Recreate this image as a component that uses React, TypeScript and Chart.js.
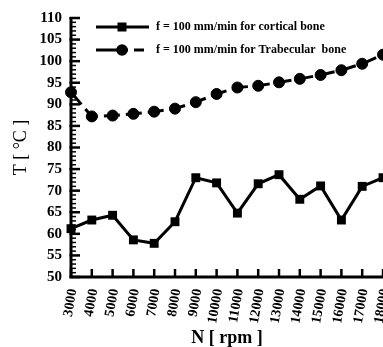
import React, { useEffect, useRef } from "react";
import { Chart, registerables } from "chart.js";

Chart.register(...registerables);

const categories = ["3000","4000","5000","6000","7000","8000","9000","10000","11000","12000","13000","14000","15000","16000","17000","18000"];
const corticalValues = [61.2, 63.2, 64.3, 58.6, 57.8, 62.8, 73.0, 71.8, 64.8, 71.6, 73.7, 68.0, 71.1, 63.2, 71.0, 73.0];
const trabecularValues = [92.8, 87.2, 87.4, 87.8, 88.3, 89.0, 90.5, 92.4, 93.9, 94.3, 95.1, 95.9, 96.8, 97.9, 99.4, 101.5];
const legendLabels = ["f = 100 mm/min for cortical bone", "f = 100 mm/min for Trabecular  bone"];
const yMin = 50;
const yMax = 110;
const yStep = 5;

const SERIF = "'Liberation Serif', 'Times New Roman', serif";

const decorPlugin = {
  id: "decor",
  beforeDatasetsDraw(chart: any) {
    const { ctx, chartArea, scales } = chart;
    const y = scales.y;
    const x = scales.x;
    ctx.save();
    ctx.strokeStyle = "#000";
    ctx.lineCap = "butt";
    ctx.lineWidth = 3;
    ctx.beginPath();
    ctx.moveTo(chartArea.left, chartArea.top - 1);
    ctx.lineTo(chartArea.left, chartArea.bottom + 1.5);
    ctx.moveTo(chartArea.left - 1.5, chartArea.bottom);
    ctx.lineTo(chartArea.right, chartArea.bottom);
    ctx.stroke();
    for (let v = yMin; v <= yMax; v += 1) {
      const py = y.getPixelForValue(v);
      const major = (v - yMin) % yStep === 0;
      ctx.lineWidth = major ? 2.5 : 1.5;
      ctx.beginPath();
      ctx.moveTo(chartArea.left - (major ? 1.5 : 0), py);
      ctx.lineTo(chartArea.left + (major ? 9 : 5), py);
      ctx.stroke();
    }
    ctx.lineWidth = 2.5;
    for (let i = 0; i < categories.length; i++) {
      const px = x.getPixelForValue(i);
      ctx.beginPath();
      ctx.moveTo(px, chartArea.bottom);
      ctx.lineTo(px, chartArea.bottom - 8);
      ctx.stroke();
    }
    ctx.fillStyle = "#000";
    ctx.font = `bold 14px ${SERIF}`;
    ctx.textAlign = "right";
    ctx.textBaseline = "middle";
    for (let i = 0; i < categories.length; i++) {
      const px = x.getPixelForValue(i);
      ctx.save();
      ctx.translate(px + 2, chartArea.bottom + 12);
      ctx.rotate(-80 * Math.PI / 180);
      ctx.fillText(categories[i], 0, 0);
      ctx.restore();
    }
    ctx.restore();
  },
  afterDraw(chart: any) {
    const { ctx } = chart;
    ctx.save();
    ctx.strokeStyle = "#000";
    ctx.fillStyle = "#000";
    ctx.lineWidth = 3;
    const y1 = 27;
    ctx.beginPath();
    ctx.moveTo(96, y1);
    ctx.lineTo(149, y1);
    ctx.stroke();
    ctx.fillRect(122 - 4.5, y1 - 4.5, 9, 9);
    const y2 = 50;
    ctx.beginPath();
    ctx.moveTo(96, y2);
    ctx.lineTo(128, y2);
    ctx.moveTo(134, y2);
    ctx.lineTo(144, y2);
    ctx.stroke();
    ctx.beginPath();
    ctx.arc(122, y2, 5.8, 0, Math.PI * 2);
    ctx.fill();
    ctx.font = `bold 12px ${SERIF}`;
    ctx.textBaseline = "middle";
    ctx.textAlign = "left";
    ctx.fillText(legendLabels[0], 156, y1);
    ctx.fillText(legendLabels[1], 156, y2);
    ctx.restore();
  },
};

export default function App() {
  const ref = useRef<HTMLCanvasElement>(null);
  useEffect(() => {
    document.body.style.margin = "0";
    const canvas = ref.current!;
    const chart = new Chart(canvas, {
      type: "line",
      data: {
        labels: categories,
        datasets: [
          {
            label: legendLabels[0],
            data: corticalValues,
            borderColor: "#000",
            backgroundColor: "#000",
            borderWidth: 3,
            pointStyle: "rect",
            pointRadius: 6.3,
            pointBorderWidth: 0,
            tension: 0,
            clip: false as any,
          },
          {
            label: legendLabels[1],
            data: trabecularValues,
            borderColor: "#000",
            backgroundColor: "#000",
            borderWidth: 3,
            borderDash: [16, 6],
            pointStyle: "circle",
            pointRadius: 5.5,
            pointBorderWidth: 1,
            tension: 0,
            clip: false as any,
          },
        ],
      },
      options: {
        animation: false,
        responsive: false,
        layout: { autoPadding: false, padding: { top: 17, right: 0, left: 0, bottom: 0 } },
        plugins: {
          legend: { display: false },
          tooltip: { enabled: false },
        },
        scales: {
          x: {
            type: "category",
            offset: false,
            grid: { display: false, drawTicks: false },
            border: { display: false },
            ticks: { display: false },
            title: {
              display: true,
              text: "N [ rpm ]",
              color: "#000",
              font: { family: SERIF, size: 18, weight: "bold" },
              padding: { top: 0, bottom: -2 },
            },
            afterFit(scale: any) {
              scale.height = 70;
            },
          },
          y: {
            min: yMin,
            max: yMax,
            grid: { display: false, drawTicks: false },
            border: { display: false },
            ticks: {
              stepSize: yStep,
              padding: 9,
              color: "#000",
              font: { family: SERIF, size: 15, weight: "bold" },
            },
            title: {
              display: true,
              text: "T [ °C ]",
              color: "#000",
              font: { family: SERIF, size: 18, weight: "normal" },
              padding: { top: 10, bottom: 0 },
            },
            afterFit(scale: any) {
              scale.width = 71;
            },
          },
        },
      },
      plugins: [decorPlugin],
    });
    return () => chart.destroy();
  }, []);
  return (
    <canvas ref={ref} width={383} height={347} style={{ display: "block", width: 383, height: 347 }} />
  );
}
